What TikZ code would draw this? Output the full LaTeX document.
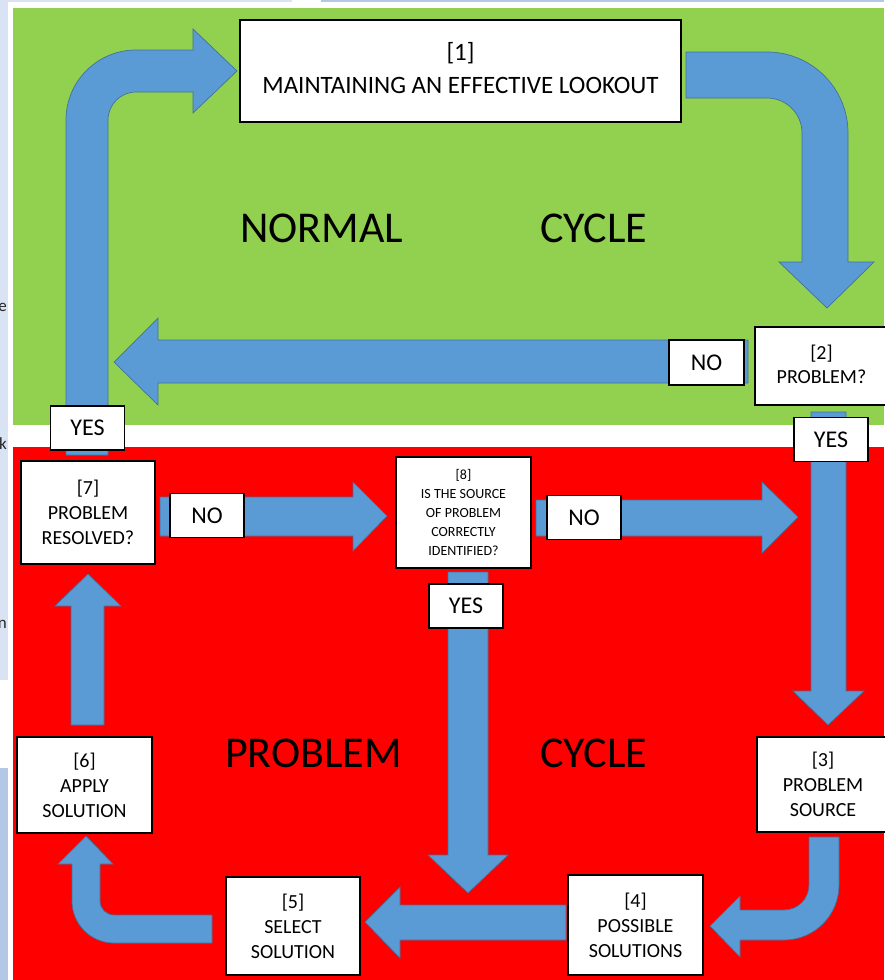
\documentclass[tikz,border=0pt]{standalone}
\usepackage{fontspec}
\setmainfont{Carlito}
\definecolor{grn}{HTML}{92D050}
\definecolor{rd}{HTML}{FF0000}
\definecolor{arrblue}{HTML}{5B9BD5}
\definecolor{arrline}{HTML}{41719C}
\definecolor{lav}{HTML}{DAE3F3}
\definecolor{lavb}{HTML}{B4C7E7}
\begin{document}
\begin{tikzpicture}[x=1pt,y=-1pt,
  box/.style={draw=black, line width=1.4pt, fill=white, inner sep=0pt, align=center,
    font=\fontsize{20}{25}\selectfont},
  lbl/.style={box, minimum width=74pt, minimum height=44pt, font=\fontsize{24}{29}\selectfont},
  arr/.style={fill=arrblue, draw=arrline, line width=0.7pt},
  big/.style={font=\fontsize{44}{50}\selectfont, anchor=base west, inner sep=0pt},
  edge/.style={font=\fontsize{17}{19}\selectfont, anchor=base east, inner sep=0pt, text=black!85}]
\useasboundingbox (0,0) rectangle (884,980);
% background pieces
\fill[white] (0,0) rectangle (884,980);
\fill[lav] (0,0) rectangle (8,680);
\fill[lav] (0,0) rectangle (292,2);
\fill[lavb] (321,0) rectangle (884,2);
\fill[lavb] (0,768) rectangle (8,980);
\node[edge] (e1) at (7,311) {e};
\node[edge] (e2) at (7,449) {k};
\node[edge] (e3) at (7,628) {n};
\fill[grn] (13,8) rectangle (884,425);
\fill[rd] (13,447) rectangle (884,980);
% big labels
\node[big] (normal) at (240,242) {NORMAL};
\node[big] (cyc1) at (540,242) {CYCLE};
\node[big] (problem) at (225,767) {PROBLEM};
\node[big] (cyc2) at (540,767) {CYCLE};
% arrows
\draw[arr] (66,455) -- (66,120) arc (180:270:70) -- (193,50) -- (193,29) -- (237,71)
  -- (193,113) -- (193,92) -- (136,92) arc (270:180:28) -- (108,455) -- cycle;
\draw[arr] (686,52) -- (767,52) arc (270:360:81) -- (848,262) -- (874,262) -- (827,308)
  -- (779,262) -- (802,262) -- (802,133) arc (0:-90:35) -- (686,98) -- cycle;
\draw[arr] (748,340) -- (158,340) -- (158,318) -- (114,362) -- (158,405) -- (158,383)
  -- (748,383) -- cycle;
\draw[arr] (811,412) -- (846,412) -- (846,691) -- (864,691) -- (828,725) -- (793,691)
  -- (811,691) -- cycle;
\draw[arr] (809,837) -- (839,837) -- (839,885) arc (0:90:55) -- (740,940) -- (740,957)
  -- (710,926) -- (740,896) -- (740,910) -- (784,910) arc (90:0:25) -- cycle;
\draw[arr] (566,905) -- (400,905) -- (400,887) -- (365,922) -- (400,958) -- (400,940)
  -- (566,940) -- cycle;
\draw[arr] (448,572) -- (488,572) -- (488,855) -- (508,855) -- (468,893) -- (428,855)
  -- (448,855) -- cycle;
\draw[arr] (212,915) -- (114,915) arc (90:180:14) -- (100,864) -- (113,864) -- (86,836)
  -- (58,864) -- (72,864) -- (72,901) arc (180:90:42) -- (212,943) -- cycle;
\draw[arr] (71,725) -- (104,725) -- (104,606) -- (121,606) -- (88,574) -- (55,606)
  -- (71,606) -- cycle;
\draw[arr] (160,497) -- (353,497) -- (353,482) -- (387,516) -- (353,551) -- (353,536)
  -- (160,536) -- cycle;
\draw[arr] (536,500) -- (762,500) -- (762,482) -- (798,517) -- (762,553) -- (762,536)
  -- (536,536) -- cycle;
% boxes
\node[box, minimum width=441pt, minimum height=102pt] (b1) at (460.5,71) {};
\node[font=\fontsize{25}{33}\selectfont, align=center, inner sep=0pt]
  (b1t) at (460.5,68) {[1]\\MAINTAINING AN EFFECTIVE LOOKOUT};
\node[box, minimum width=133pt, minimum height=78pt] (b2) at (821.5,366) {};
\node[font=\fontsize{20}{24}\selectfont, align=center, inner sep=0pt]
  (b2t) at (821.5,364) {[2]\\PROBLEM?};
\node[box, minimum width=132pt, minimum height=95pt] (b3) at (823,784.5) {[3]\\PROBLEM\\SOURCE};
\node[box, minimum width=135pt, minimum height=100pt] (b4) at (635.5,925) {[4]\\POSSIBLE\\SOLUTIONS};
\node[box, minimum width=134pt, minimum height=98pt] (b5) at (293,926) {[5]\\SELECT\\SOLUTION};
\node[box, minimum width=135pt, minimum height=96pt] (b6) at (84.5,785) {[6]\\APPLY\\SOLUTION};
\node[box, minimum width=134pt, minimum height=103pt] (b7) at (88,512.5) {[7]\\PROBLEM\\RESOLVED?};
\node[box, minimum width=135pt, minimum height=111pt, font=\fontsize{14}{19}\selectfont]
  (b8) at (463.5,512.5) {[8]\\IS THE SOURCE\\OF PROBLEM\\CORRECTLY\\IDENTIFIED?};
\node[lbl, minimum width=75pt, minimum height=45pt] (no1) at (706.5,362.5) {NO};
\node[lbl] (yes1) at (87.5,428) {YES};
\node[lbl] (yes2) at (831,439.5) {YES};
\node[lbl] (no2) at (207,515.5) {NO};
\node[lbl] (no3) at (584,517.5) {NO};
\node[lbl] (yes3) at (466,606) {YES};
\end{tikzpicture}
\end{document}
